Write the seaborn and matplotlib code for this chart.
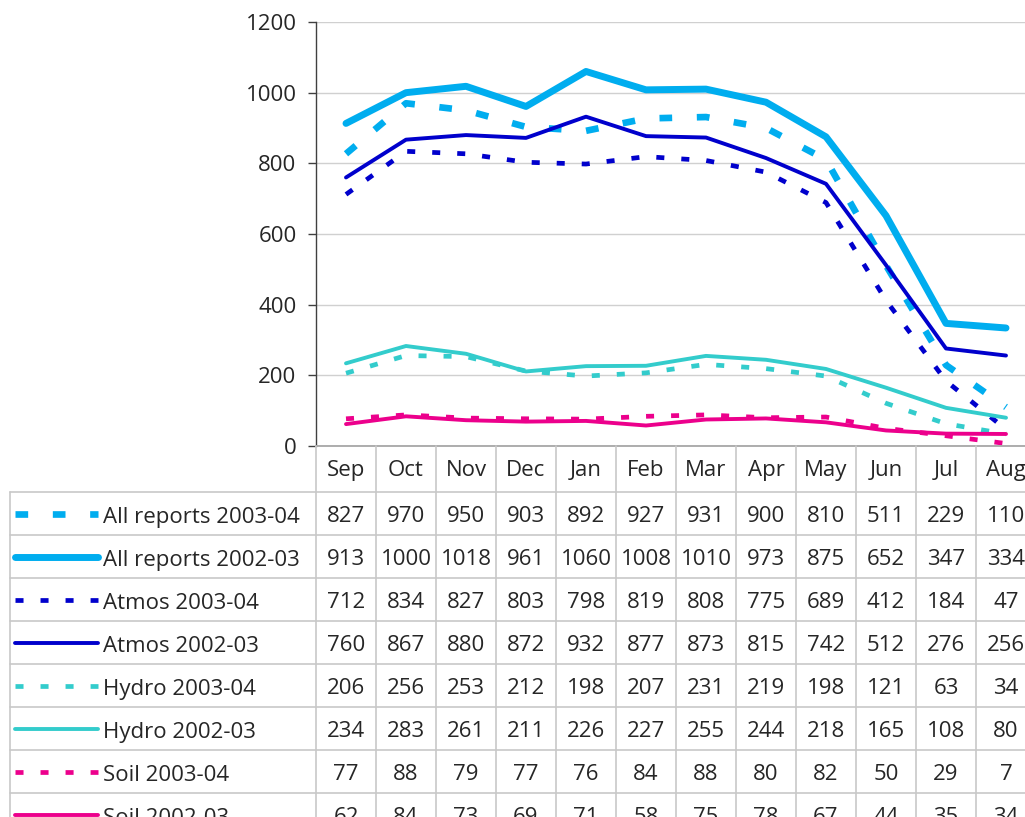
import numpy as np
import pandas as pd
import matplotlib
matplotlib.use('Agg')
import matplotlib.pyplot as plt
import seaborn as sns

months = ['Sep', 'Oct', 'Nov', 'Dec', 'Jan', 'Feb', 'Mar', 'Apr', 'May', 'Jun', 'Jul', 'Aug']
series_names = ['All reports 2003-04', 'All reports 2002-03', 'Atmos 2003-04', 'Atmos 2002-03',
                'Hydro 2003-04', 'Hydro 2002-03', 'Soil 2003-04', 'Soil 2002-03']

all_0304 = [827, 970, 950, 903, 892, 927, 931, 900, 810, 511, 229, 110]
all_0203 = [913, 1000, 1018, 961, 1060, 1008, 1010, 973, 875, 652, 347, 334]
atmos_0304 = [712, 834, 827, 803, 798, 819, 808, 775, 689, 412, 184, 47]
atmos_0203 = [760, 867, 880, 872, 932, 877, 873, 815, 742, 512, 276, 256]
hydro_0304 = [206, 256, 253, 212, 198, 207, 231, 219, 198, 121, 63, 34]
hydro_0203 = [234, 283, 261, 211, 226, 227, 255, 244, 218, 165, 108, 80]
soil_0304 = [77, 88, 79, 77, 76, 84, 88, 80, 82, 50, 29, 7]
soil_0203 = [62, 84, 73, 69, 71, 58, 75, 78, 67, 44, 35, 34]
y_ticks = [0, 200, 400, 600, 800, 1000, 1200]

values = [all_0304, all_0203, atmos_0304, atmos_0203, hydro_0304, hydro_0203, soil_0304, soil_0203]

# styles
c_all, c_atm, c_hyd, c_soil = '#00ADEF', '#0000CC', '#33CCCC', '#EC008C'
colors = dict(zip(series_names, [c_all, c_all, c_atm, c_atm, c_hyd, c_hyd, c_soil, c_soil]))
widths = dict(zip(series_names, [4.8, 5.0, 3.4, 2.8, 3.4, 2.8, 3.4, 2.8]))
short_dash = (1.7, 3.6)
dashes = dict(zip(series_names, [(1.9, 3.7), '', short_dash, '', short_dash, '', short_dash, '']))

df = pd.DataFrame({
    'series': np.repeat(series_names, len(months)),
    'idx': np.tile(np.arange(len(months)), len(series_names)),
    'value': np.concatenate(values),
})

sns.set_style('white')
plt.rcParams['font.family'] = ['Open Sans', 'DejaVu Sans']
fs = 16

W, H = 1025, 817
fig = plt.figure(figsize=(W / 100, H / 100), dpi=100)
ax = fig.add_axes([316 / W, 1 - 446 / H, 720 / W, 424 / H])

sns.lineplot(data=df, x='idx', y='value', hue='series', hue_order=series_names,
             palette=colors, size='series', size_order=series_names, sizes=widths,
             style='series', style_order=series_names, dashes=dashes,
             estimator=None, sort=False, legend=False, ax=ax)
for ln in ax.lines:
    ln.set_solid_capstyle('round')
    ln.set_solid_joinstyle('round')
    ln.set_dash_capstyle('butt')

ax.set_xlim(-0.5, len(months) - 0.5)
ax.set_ylim(0, 1200)
ax.set_yticks(y_ticks)
ax.set_yticklabels([str(t) for t in y_ticks], fontsize=fs)
ax.set_xticks([])
ax.set_xlabel('')
ax.set_ylabel('')
ax.yaxis.grid(True, color='#D0D0D0', lw=1)
ax.set_axisbelow(True)
ax.tick_params(axis='y', left=True, length=6, width=1, color='#404040', pad=8)
for s in ['top', 'right']:
    ax.spines[s].set_visible(False)
ax.spines['left'].set_color('#404040')
ax.spines['left'].set_linewidth(1)
ax.spines['bottom'].set_color('#A0A0A0')
ax.spines['bottom'].set_linewidth(1.2)

# data table below the chart, aligned to the month columns
header_h, row_h = 46, 43
n_rows = len(series_names)
tab_h = header_h + row_h * n_rows
tax = fig.add_axes([10 / W, 1 - (446 + tab_h) / H, 1026 / W, tab_h / H])
x_left = len(months) - 0.5 - 1026 / 60
tax.set_xlim(x_left, len(months) - 0.5)
tax.set_ylim(tab_h, 0)
tax.axis('off')

def px2x(px):
    return x_left + (px - 10) / 60

grid_c = '#C8C8C8'
for k in range(len(months) + 1):
    tax.plot([k - 0.5, k - 0.5], [0, tab_h], color=grid_c, lw=1.2, clip_on=False)
tax.plot([x_left, x_left], [header_h, tab_h], color=grid_c, lw=1.2, clip_on=False)
for r in range(n_rows + 1):
    y = header_h + r * row_h
    tax.plot([x_left, len(months) - 0.5], [y, y], color=grid_c, lw=1.2, clip_on=False)

for i, m in enumerate(months):
    tax.text(i, header_h / 2 + 1, m, ha='center', va='center', fontsize=fs)

for r, (name, vals) in enumerate(zip(series_names, values)):
    yc = header_h + (r + 0.5) * row_h
    for i, v in enumerate(vals):
        tax.text(i, yc + 3, str(v), ha='center', va='center', fontsize=fs)
    tax.text(px2x(103), yc + 4, name, ha='left', va='center', fontsize=fs)
    ln, = tax.plot([px2x(15), px2x(98)], [yc, yc], color=colors[name], lw=widths[name])
    if dashes[name]:
        ln.set_dashes(dashes[name])
        ln.set_dash_capstyle('butt')
    else:
        ln.set_solid_capstyle('round')

fig.savefig('out.png', dpi=100)
